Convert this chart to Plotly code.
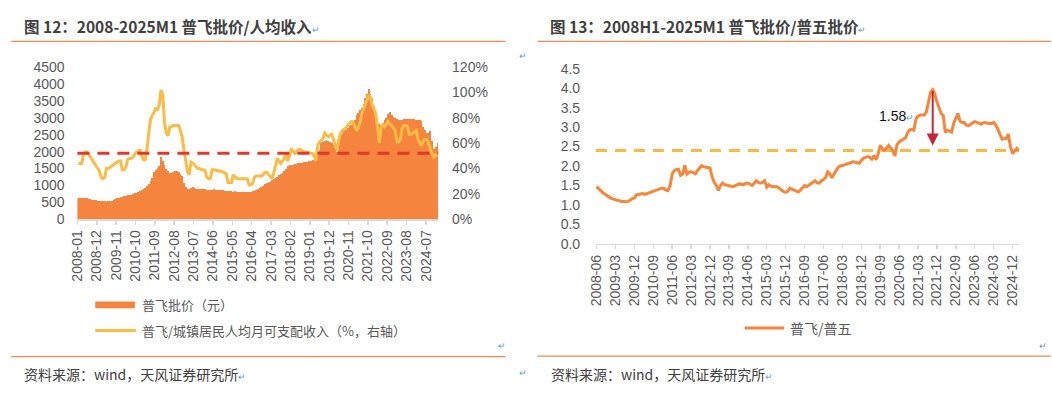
import plotly.graph_objects as go

W, H = 1052, 398

# ---------------- Left chart data (monthly, 2008-01 .. 2025-01) ----------------
feitian_price = [
    640, 640, 640, 635, 630, 625, 610, 590, 570, 560, 555, 550,
    545, 540, 530, 525, 520, 525, 535, 550, 570, 590, 615, 640,
    650, 660, 675, 690, 705, 715, 730, 745, 765, 785, 810, 840,
    870, 900, 930, 970, 1030, 1120, 1230, 1400, 1470, 1520, 1560, 1830,
    1720, 1600, 1500, 1420, 1360, 1370, 1400, 1420, 1430, 1410, 1350, 1290,
    1080, 960, 890, 880, 920, 950, 910, 900, 890, 885, 880, 880,
    880, 875, 875, 870, 875, 880, 870, 860, 860, 850, 850, 845,
    830, 820, 830, 820, 815, 820, 815, 815, 810, 815, 810, 805,
    810, 805, 810, 820, 830, 850, 880, 920, 960, 990, 1030, 1060,
    1080, 1100, 1150, 1200, 1230, 1260, 1300, 1340, 1370, 1440, 1480, 1560,
    1590, 1600, 1610, 1620, 1640, 1650, 1660, 1670, 1680, 1690, 1700, 1710,
    1720, 1740, 1750, 1770, 1900, 2050, 2250, 2280, 2310, 2340, 2300, 2280,
    2260, 2200, 2100, 1980, 2300, 2400, 2520, 2600, 2650, 2700, 2750, 2790,
    2850, 2950, 3070, 3150, 3220, 3280, 3420, 3600, 3700, 3850, 3720, 3580,
    3350, 3150, 2900, 2820, 2790, 2850, 2930, 3000, 3100, 3160, 3080, 3020,
    2990, 2970, 2950, 2940, 2950, 2960, 2970, 2980, 2975, 2960, 2965, 2955,
    2950, 2940, 2930, 2900, 2730, 2650, 2560, 2540, 2600, 2300, 2070, 2150,
    2260,
]
price_to_income_pct = [
    44, 44, 44, 52, 53, 53, 51, 49, 47, 45, 43, 41,
    38, 33, 32, 33, 40, 40, 41, 42, 43, 44, 45, 46,
    46, 39, 39, 41, 47, 48, 48, 49, 51, 53, 53, 55,
    50, 47, 47, 55, 68, 78, 82, 84, 88, 86, 90, 102,
    98, 76, 68, 66, 73, 73, 74, 74, 74, 74, 70, 65,
    55, 46, 38, 35, 45, 44, 43, 41, 40, 40, 39, 39,
    38.5, 33, 32, 32, 39, 39, 38.5, 38.5, 38, 38, 37.5, 37,
    36, 29, 29, 29, 35, 33, 32, 32, 32, 32, 32, 32,
    32, 27, 27, 28, 33, 34, 34, 34, 34, 35, 37, 37,
    35, 34, 32, 36, 42, 48, 46, 44, 46, 48, 52, 46,
    50, 55, 54, 52, 53, 55, 55, 54, 53, 53, 53, 52.6,
    52, 52, 50, 46, 58, 61, 62, 64, 68, 66, 65, 66,
    67, 63, 58, 54, 63, 68, 70, 71, 72, 74, 76, 77,
    77, 74, 70, 72, 76, 83, 88, 91, 94, 98, 96, 90,
    87, 83, 72, 60, 72, 75, 73, 75, 77, 75, 74, 72,
    70, 61, 61, 63, 72, 74, 74, 73, 67, 67, 68, 69,
    70, 63, 60, 58, 62, 63, 63, 60, 55, 52, 49, 50,
    52,
]
ratio_mean_pct = 52
left_tick_labels = ["2008-01", "2008-12", "2009-11", "2010-10", "2011-09", "2012-08",
                    "2013-07", "2014-06", "2015-05", "2016-04", "2017-03", "2018-02",
                    "2019-01", "2019-12", "2020-11", "2021-10", "2022-09", "2023-08",
                    "2024-07"]
left_tick_step = 11

# ---------------- Right chart data ----------------
feitian_to_wuliangye = [
    1.47, 1.43, 1.37, 1.31, 1.27, 1.23, 1.20, 1.17, 1.15, 1.13,
    1.11, 1.10, 1.09, 1.09, 1.08, 1.09, 1.13, 1.16, 1.18, 1.26,
    1.27, 1.28, 1.29, 1.27, 1.29, 1.31, 1.33, 1.35, 1.38, 1.40,
    1.41, 1.43, 1.43, 1.38, 1.37, 1.50, 1.80, 1.88, 1.91, 1.91,
    1.76, 1.80, 2.02, 1.79, 1.84, 1.85, 1.83, 1.80, 1.88, 1.96,
    2.01, 1.98, 1.97, 1.96, 1.95, 1.72, 1.58, 1.50, 1.37, 1.50,
    1.56, 1.52, 1.50, 1.49, 1.48, 1.47, 1.49, 1.52, 1.54, 1.53,
    1.52, 1.55, 1.56, 1.53, 1.50, 1.55, 1.62, 1.58, 1.56, 1.58,
    1.62, 1.46, 1.52, 1.48, 1.47, 1.47, 1.47, 1.43, 1.39, 1.34,
    1.33, 1.35, 1.43, 1.40, 1.37, 1.35, 1.33, 1.38, 1.45, 1.50,
    1.47, 1.50, 1.54, 1.58, 1.62, 1.57, 1.56, 1.62, 1.65, 1.70,
    1.85, 1.80, 1.70, 1.80, 1.88, 1.97, 2.00, 2.01, 2.03, 2.05,
    2.07, 2.08, 2.11, 2.10, 2.08, 2.07, 2.14, 2.20, 2.22, 2.24,
    2.22, 2.18, 2.27, 2.16, 2.30, 2.53, 2.45, 2.40, 2.46, 2.53,
    2.46, 2.40, 2.26, 2.55, 2.62, 2.65, 2.68, 2.72, 2.85, 2.93,
    2.94, 2.92, 3.20, 3.28, 3.31, 3.31, 3.31, 3.39, 3.70, 3.90,
    3.96, 3.85, 3.65, 3.50, 3.35, 3.30, 2.86, 2.92, 2.90, 2.87,
    3.10, 3.25, 3.35, 3.15, 3.12, 3.12, 3.05, 3.04, 3.08, 3.10,
    3.14, 3.12, 3.10, 3.08, 3.11, 3.12, 3.10, 3.10, 3.09, 3.12,
    3.05, 2.94, 2.80, 2.69, 2.70, 2.71, 2.82, 2.50, 2.32, 2.38,
    2.45, 2.40,
]
ratio_baseline = 2.4
gap_label = "1.58"
right_tick_labels = ["2008-06", "2009-03", "2009-12", "2010-09", "2011-06", "2012-03",
                     "2012-12", "2013-09", "2014-06", "2015-03", "2015-12", "2016-09",
                     "2017-06", "2018-03", "2018-12", "2019-09", "2020-06", "2021-03",
                     "2021-12", "2022-09", "2023-06", "2024-03", "2024-12"]
right_tick_step = 9

# ---------------- styles ----------------
C_BAR = "#F4843E"
C_YEL = "#FBBC45"
C_RED = "#E2382B"
C_ORG = "#F5863A"
C_DASH2 = "#F9B943"
C_ARROW = "#C3283A"
C_RULE = "#EE8A4E"
C_TXT = "#404040"
C_TICK = "#595959"
C_AXIS = "#D9D9D9"
C_PARA = "#5B9BD5"
NUM_FONT = "Liberation Sans, Arial, Noto Sans CJK SC, sans-serif"
CJK_FONT = "Noto Sans CJK SC, Liberation Sans, sans-serif"
NOTICK = "rgba(0,0,0,0)"


def fx(px):
    return px / W


def fy(py):
    return 1 - py / H


idx_left = list(range(len(feitian_price)))
idx_right = list(range(len(feitian_to_wuliangye)))

fig = go.Figure()
fig.add_trace(go.Bar(x=idx_left, y=feitian_price, marker=dict(color=C_BAR, line=dict(width=0)),
                     xaxis="x", yaxis="y", showlegend=False, name="普飞批价（元）"))
fig.add_trace(go.Scatter(x=idx_left, y=price_to_income_pct, mode="lines",
                         line=dict(color=C_YEL, width=3), xaxis="x", yaxis="y2",
                         showlegend=False, name="普飞/城镇居民人均月可支配收入（%，右轴）"))
fig.add_trace(go.Scatter(x=idx_right, y=feitian_to_wuliangye, mode="lines",
                         line=dict(color=C_ORG, width=3), xaxis="x2", yaxis="y3",
                         showlegend=False, name="普飞/普五"))

tickfont = dict(family=NUM_FONT, size=14, color=C_TICK)

left_tickvals = [i * left_tick_step - 0.5 for i in range(len(left_tick_labels))]
right_tickvals = [i * right_tick_step for i in range(len(right_tick_labels))]

fig.update_layout(
    width=W, height=H, margin=dict(l=0, r=0, t=0, b=0),
    paper_bgcolor="white", plot_bgcolor="white", bargap=0,
    xaxis=dict(domain=[fx(70), fx(434)], range=[-0.5, len(feitian_price) - 0.5], anchor="y",
               tickmode="array", tickvals=left_tickvals, ticktext=left_tick_labels,
               tickangle=-90, tickfont=tickfont, showline=True, linecolor=C_AXIS, linewidth=1.5,
               ticks="outside", ticklen=4, tickcolor=C_AXIS, tickwidth=1.5,
               showgrid=False, zeroline=False),
    yaxis=dict(domain=[fy(220), fy(61.7)], range=[0, 4500], tickmode="linear", dtick=500,
               tickfont=tickfont, showgrid=False, zeroline=False, showline=False,
               ticks="outside", ticklen=9, tickcolor=NOTICK, anchor="x"),
    yaxis2=dict(overlaying="y", side="right", range=[0, 120], tickmode="linear", dtick=20,
                ticksuffix="%", tickfont=tickfont, showgrid=False, zeroline=False,
                showline=False, ticks="outside", ticklen=10, tickcolor=NOTICK, anchor="x"),
    xaxis2=dict(domain=[fx(593), fx(1020)], range=[-0.3, len(feitian_to_wuliangye) - 0.8],
                anchor="y3", tickmode="array", tickvals=right_tickvals, ticktext=right_tick_labels,
                tickangle=-90, tickfont=tickfont, showline=True, linecolor=C_AXIS, linewidth=1.5,
                ticks="outside", ticklen=4, tickcolor=C_AXIS, tickwidth=1.5,
                showgrid=False, zeroline=False),
    yaxis3=dict(domain=[fy(245.7), fy(63.3)], range=[0, 4.5], tickmode="linear", dtick=0.5,
                tickformat=".1f", tickfont=tickfont, showgrid=False, zeroline=False,
                showline=False, ticks="outside", ticklen=12, tickcolor=NOTICK, anchor="x2"),
)

shapes = []
# reference lines
shapes.append(dict(type="line", xref="x domain", x0=0, x1=1, yref="y2", y0=ratio_mean_pct,
                   y1=ratio_mean_pct, line=dict(color=C_RED, width=3, dash="12px,8px"), layer="above"))
shapes.append(dict(type="line", xref="x2 domain", x0=0, x1=1, yref="y3", y0=ratio_baseline,
                   y1=ratio_baseline, line=dict(color=C_DASH2, width=3, dash="11px,8px"), layer="below"))
# arrow from peak to baseline
peak_i = max(idx_right, key=lambda i: feitian_to_wuliangye[i])
peak_v = feitian_to_wuliangye[peak_i]
shapes.append(dict(type="line", xref="x2", yref="y3", x0=peak_i, x1=peak_i,
                   y0=peak_v - 0.03, y1=ratio_baseline + 0.35,
                   line=dict(color=C_ARROW, width=2), layer="above"))
shapes.append(dict(type="path", xref="x2", yref="y3", xsizemode="pixel", ysizemode="pixel",
                   xanchor=peak_i, yanchor=ratio_baseline + 0.13,
                   path="M-6,12 L6,12 L0,0 Z", fillcolor=C_ARROW, line=dict(width=0), layer="above"))
# horizontal rules
for x0, x1, y in [(3.3, 501.7, 34.7), (3.3, 501.7, 363.3), (534, 1052, 34.7), (534, 1052, 362.7)]:
    shapes.append(dict(type="line", xref="paper", yref="paper", x0=fx(x0), x1=fx(x1),
                       y0=fy(y), y1=fy(y), line=dict(color=C_RULE, width=1.2)))
# legend swatches
shapes.append(dict(type="rect", xref="paper", yref="paper", x0=fx(88), x1=fx(128),
                   y0=fy(312.7), y1=fy(305.8), fillcolor=C_BAR, line=dict(width=0)))
shapes.append(dict(type="line", xref="paper", yref="paper", x0=fx(88), x1=fx(129),
                   y0=fy(336), y1=fy(336), line=dict(color=C_YEL, width=3)))
shapes.append(dict(type="line", xref="paper", yref="paper", x0=fx(743), x1=fx(783),
                   y0=fy(333.3), y1=fy(333.3), line=dict(color=C_ORG, width=3)))
fig.update_layout(shapes=shapes)

PARA = "<span style='color:%s;font-size:9px;font-weight:normal'>↵</span>" % C_PARA


def text(x, y, s, size=14, color=C_TXT, anchor="left", font=CJK_FONT):
    return dict(xref="paper", yref="paper", x=fx(x), y=fy(y), text=s, showarrow=False,
                xanchor=anchor, yanchor="middle", font=dict(family=font, size=size, color=color))


ann = [
    text(14, 19, "<b>图 12：2008-2025M1 普飞批价/人均收入</b>" + PARA, size=15.5),
    text(545, 19, "<b>图 13：2008H1-2025M1 普飞批价/普五批价</b>" + PARA, size=15.5),
    text(14, 381.5, "资料来源：wind，天风证券研究所" + PARA, size=14),
    text(545.5, 381.5, "资料来源：wind，天风证券研究所" + PARA, size=14),
    text(133, 309, "普飞批价（元）", size=13, color=C_TICK),
    text(133, 336, "普飞/城镇居民人均月可支配收入（%，右轴）", size=13, color=C_TICK),
    text(787, 333.3, "普飞/普五", size=14, color=C_TICK),
    text(876, 112.7, gap_label + PARA, size=14, color="#111111", font=NUM_FONT),
    text(513, 50, PARA),
    text(492, 352, PARA),
    text(513, 380, PARA),
    text(1038, 352, PARA),
]
fig.update_layout(annotations=ann)

fig.write_html("out.html", config={"displayModeBar": False, "staticPlot": True},
               post_script="document.body.style.margin='0px';document.body.style.overflow='hidden';")
